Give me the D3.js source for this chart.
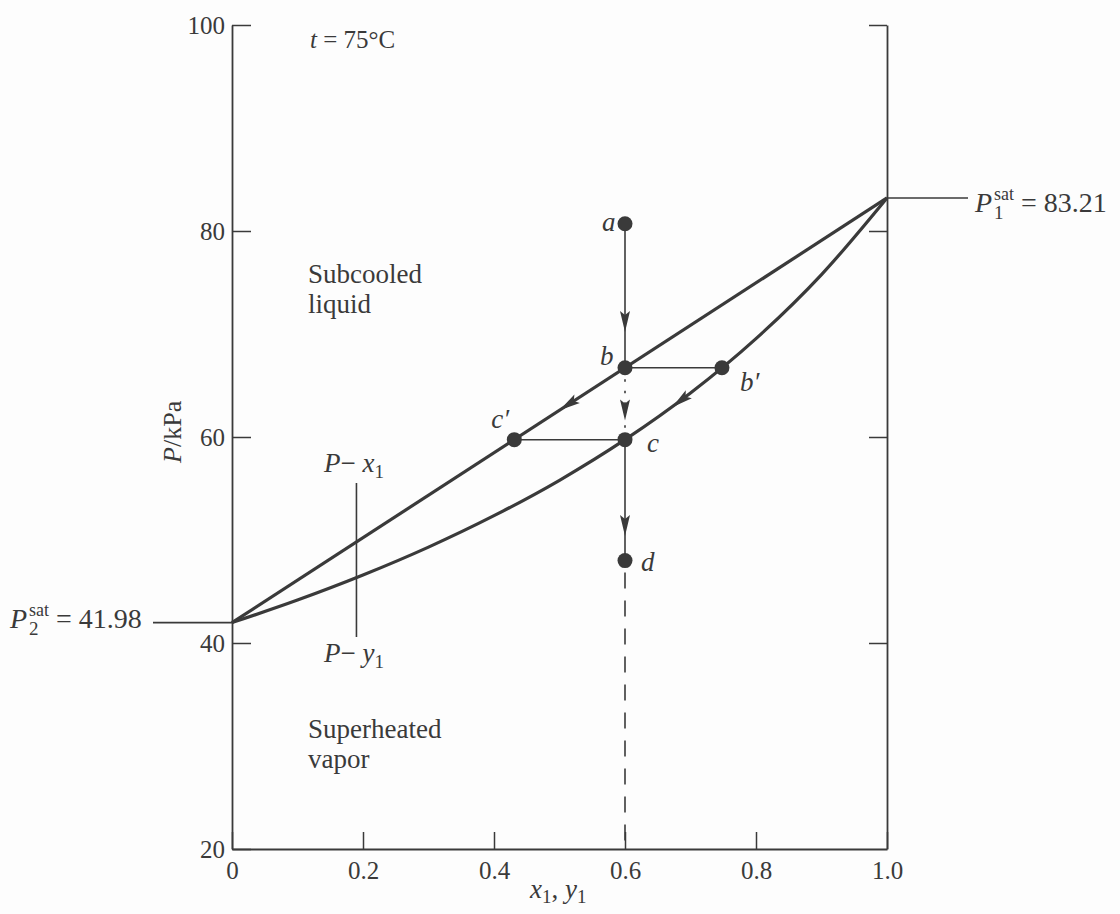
<!DOCTYPE html>
<html>
<head>
<meta charset="utf-8">
<script src="https://cdn.jsdelivr.net/npm/d3@7"></script>
<style>
  body { margin: 0; background: #fdfdfd; }
  svg { display: block; }
  text { font-family: "Liberation Serif", "DejaVu Serif", serif; fill: #3a3a3a; }
  .it { font-style: italic; }
</style>
</head>
<body>
<svg></svg>
<script>
"use strict";

// axis ticks
const xTicks = [0, 0.2, 0.4, 0.6, 0.8, 1.0];
const yTicks = [20, 40, 60, 80, 100];

// P-x1 (bubble line)
const bubbleX = [0, 1.0];
const bubbleP = [41.98, 83.21];

// P-y1 (dew curve)
const dewY = [0, 0.1, 0.2, 0.3, 0.4, 0.5, 0.6, 0.7, 0.8, 0.9, 1.0];
const dewP = [41.98, 44.17, 46.6, 49.31, 52.36, 55.8, 59.74, 64.27, 69.55, 75.77, 83.21];

// state points
const pointNames = ["a", "b", "b′", "c′", "c", "d"];
const pointX = [0.6, 0.6, 0.748, 0.431, 0.6, 0.6];
const pointP = [80.7, 66.72, 66.72, 59.74, 59.74, 48.0];

// arrowheads: tail -> tip along the path
const arrowTail = [[0.6, 72.0], [0.6, 63.5], [0.6, 52.5], [0.54, 64.25], [0.70, 64.27]];
const arrowTip = [[0.6, 70.2], [0.6, 61.6], [0.6, 50.4], [0.50, 62.6], [0.672, 62.9]];

const width = 1120;
const height = 914;
const plotLeft = 232;
const plotRight = 887;
const plotTop = 25;
const plotBottom = 849;
const ink = "#3a3a3a";

const svg = d3.select("svg").attr("width", width).attr("height", height);

const xScale = d3.scaleLinear().domain([0, 1]).range([plotLeft, plotRight]);
const yScale = d3.scaleLinear().domain([20, 100]).range([plotBottom, plotTop]);

const drawAxes = () => {
  const fmt = (d) => (d === 0 ? "0" : d.toFixed(1));

  const xAxis = svg
    .append("g")
    .attr("transform", `translate(0,${plotBottom})`)
    .call(d3.axisBottom(xScale).tickValues(xTicks).tickFormat(fmt).tickSize(-17).tickSizeOuter(0).tickPadding(7));

  const yAxis = svg
    .append("g")
    .attr("transform", `translate(${plotLeft},0)`)
    .call(d3.axisLeft(yScale).tickValues(yTicks).tickSize(-19).tickSizeOuter(0).tickPadding(7));

  const yRight = svg
    .append("g")
    .attr("transform", `translate(${plotRight},0)`)
    .call(d3.axisRight(yScale).tickValues(yTicks.slice(1)).tickFormat("").tickSize(-18).tickSizeOuter(0));

  [xAxis, yAxis, yRight].forEach((g) => {
    g.select(".domain").attr("stroke", ink).attr("stroke-width", 1.8);
    g.selectAll(".tick line").attr("stroke", ink).attr("stroke-width", 1.5);
    g.selectAll(".tick text")
      .style("font-family", "Liberation Serif, serif")
      .style("font-size", "25px")
      .attr("fill", ink);
  });
  xAxis.selectAll(".tick text").attr("dy", "0.9em");

  // axis titles
  svg
    .append("text")
    .attr("transform", `translate(181,${yScale(60.5)}) rotate(-90)`)
    .attr("text-anchor", "middle")
    .style("font-size", "26px")
    .html('<tspan class="it">P</tspan>/kPa');

  const xt = svg.append("text").attr("x", 530).attr("y", 898).style("font-size", "27px");
  xt.append("tspan").attr("class", "it").text("x");
  xt.append("tspan").attr("dy", 5).style("font-size", "19px").text("1");
  xt.append("tspan").attr("dy", -5).text(", ");
  xt.append("tspan").attr("class", "it").text("y");
  xt.append("tspan").attr("dy", 5).style("font-size", "19px").text("1");
};

const drawCurves = () => {
  const bubble = bubbleX.map((x, i) => [x, bubbleP[i]]);
  const dew = dewY.map((y, i) => [y, dewP[i]]);

  const line = d3
    .line()
    .x((d) => xScale(d[0]))
    .y((d) => yScale(d[1]))
    .curve(d3.curveMonotoneX);

  svg
    .selectAll(".curve")
    .data([bubble, dew])
    .enter()
    .append("path")
    .attr("class", "curve")
    .attr("d", line)
    .attr("fill", "none")
    .attr("stroke", ink)
    .attr("stroke-width", 3.2);

  // saturation pressure leaders
  svg
    .append("line")
    .attr("x1", xScale(1))
    .attr("x2", 968)
    .attr("y1", yScale(bubbleP[1]))
    .attr("y2", yScale(bubbleP[1]))
    .attr("stroke", ink)
    .attr("stroke-width", 1.6);
  svg
    .append("line")
    .attr("x1", 153)
    .attr("x2", xScale(0))
    .attr("y1", yScale(bubbleP[0]))
    .attr("y2", yScale(bubbleP[0]))
    .attr("stroke", ink)
    .attr("stroke-width", 1.6);
};

const drawPath = () => {
  const px = (i) => xScale(pointX[i]);
  const py = (i) => yScale(pointP[i]);

  const seg = (x1, y1, x2, y2, dash) =>
    svg
      .append("line")
      .attr("x1", x1)
      .attr("y1", y1)
      .attr("x2", x2)
      .attr("y2", y2)
      .attr("stroke", ink)
      .attr("stroke-width", 1.6)
      .attr("stroke-dasharray", dash);

  seg(px(0), py(0), px(1), py(1), null); // a -> b
  seg(px(1), py(1), px(4), py(4), "2.5,9"); // b -> c dotted
  seg(px(4), py(4), px(5), py(5), null); // c -> d
  seg(px(5), py(5) + 12, px(5), yScale(20), "16,12"); // below d
  seg(px(1), py(1), px(2), py(2), null); // b - b'
  seg(px(3), py(3), px(4), py(4), null); // c' - c

  // x1 = 0.19 marker between the curve labels
  seg(xScale(0.19), 483, xScale(0.19), 637, null);

  // arrowheads
  arrowTip.forEach((tip, i) => {
    const tx = xScale(tip[0]);
    const ty = yScale(tip[1]);
    const ang = Math.atan2(ty - yScale(arrowTail[i][1]), tx - xScale(arrowTail[i][0]));
    svg
      .append("path")
      .attr("d", "M0,0 L-21,-5 L-17,0 L-21,5 Z")
      .attr("transform", `translate(${tx},${ty}) rotate(${(ang * 180) / Math.PI})`)
      .attr("fill", ink);
  });

  svg
    .selectAll(".pt")
    .data(pointNames)
    .enter()
    .append("circle")
    .attr("class", "pt")
    .attr("cx", (d, i) => px(i))
    .attr("cy", (d, i) => py(i))
    .attr("r", 7.5)
    .attr("fill", ink);

  const labelPos = [
    [-23, 7],
    [-25, -3],
    [18, 23],
    [-23, -12],
    [22, 12],
    [16, 10],
  ];
  svg
    .selectAll(".pl")
    .data(pointNames)
    .enter()
    .append("text")
    .attr("class", "pl it")
    .attr("x", (d, i) => px(i) + labelPos[i][0])
    .attr("y", (d, i) => py(i) + labelPos[i][1])
    .style("font-size", "27px")
    .text((d) => d);
};

const drawLabels = () => {
  const t = svg.append("text").attr("x", 310).attr("y", 48).style("font-size", "25px");
  t.append("tspan").attr("class", "it").text("t");
  t.append("tspan").text(" = 75°C");

  const block = (x, y, lines) =>
    lines.forEach((s, i) =>
      svg
        .append("text")
        .attr("x", x)
        .attr("y", y + i * 30)
        .style("font-size", "27px")
        .text(s)
    );
  block(308, 283, ["Subcooled", "liquid"]);
  block(308, 738, ["Superheated", "vapor"]);

  const psat = (x, y, sub, value) => {
    svg.append("text").attr("class", "it").attr("x", x).attr("y", y).style("font-size", "28px").text("P");
    svg.append("text").attr("x", x + 19).attr("y", y + 7).style("font-size", "19px").text(sub);
    svg.append("text").attr("x", x + 19).attr("y", y - 12).style("font-size", "18px").text("sat");
    svg.append("text").attr("x", x + 46).attr("y", y).style("font-size", "28px").text("= " + value);
  };
  psat(975, 212, "1", "83.21");
  psat(10, 628, "2", "41.98");

  const pl = (x, y, v) => {
    const tx = svg.append("text").attr("x", x).attr("y", y).style("font-size", "27px");
    tx.append("tspan").attr("class", "it").text("P");
    tx.append("tspan").text("− ");
    tx.append("tspan").attr("class", "it").text(v);
    tx.append("tspan").attr("dy", 6).style("font-size", "19px").text("1");
  };
  pl(324, 472, "x");
  pl(324, 662, "y");
};

drawAxes();
drawCurves();
drawPath();
drawLabels();
</script>
</body>
</html>
